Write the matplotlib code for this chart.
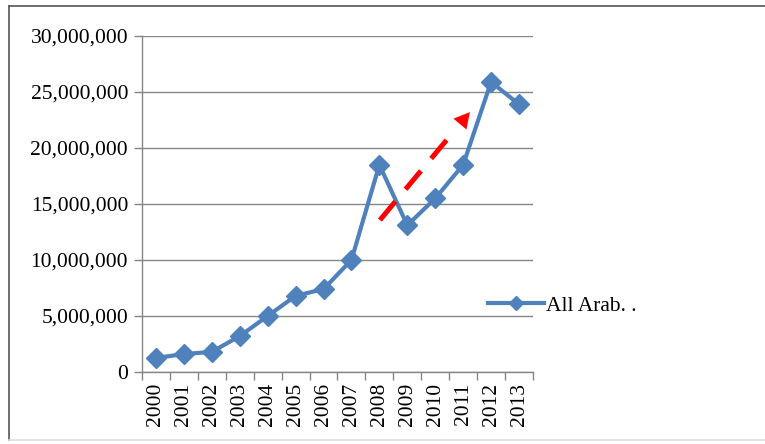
import matplotlib.pyplot as plt
from matplotlib.lines import Line2D

# --- data ---
years = ["2000", "2001", "2002", "2003", "2004", "2005", "2006",
         "2007", "2008", "2009", "2010", "2011", "2012", "2013"]
values = [1250000, 1600000, 1800000, 3200000, 5000000, 6800000, 7400000,
          10000000, 18500000, 13100000, 15500000, 18500000, 25900000, 23900000]
series_name = "All Arab. ."

# trend arrow (data coords: category index, value)
arrow_start = (8.02, 13570000)
arrow_end = (11.24, 23200000)

yticks = [0, 5000000, 10000000, 15000000, 20000000, 25000000, 30000000]

plt.rcParams['font.family'] = ['Liberation Serif', 'DejaVu Serif']

fig = plt.figure(figsize=(7.65, 4.44), dpi=100)
ax = fig.add_axes([0.1856, 0.1622, 0.6967 - 0.1856, 0.9189 - 0.1622])

blue = "#4F81BD"
grid_c = "#868686"
x = list(range(len(years)))

ax.plot(x, values, color=blue, linewidth=3, marker="D", markersize=10.5,
        markeredgecolor=blue, zorder=3, solid_joinstyle="miter")


def along(f):
    return (arrow_start[0] + (arrow_end[0] - arrow_start[0]) * f,
            arrow_start[1] + (arrow_end[1] - arrow_start[1]) * f)


# red dashed trend arrow: three dashes then a solid head
hx, hy = along(0.748)
ax.plot([arrow_start[0], hx], [arrow_start[1], hy], color="red", linewidth=3.6,
        dashes=(4.8, 3.2), zorder=4, dash_capstyle="butt")
ax.annotate("", xy=arrow_end, xytext=along(0.888),
            arrowprops=dict(arrowstyle="-|>,head_length=1.1,head_width=0.6",
                            color="red", lw=0.1, shrinkA=0, shrinkB=0), zorder=4)

ax.set_xlim(-0.5, len(years) - 0.5)
ax.set_ylim(0, 30000000)
ax.set_yticks(yticks)
ax.set_yticklabels([f"{v:,}" for v in yticks], fontsize=15.5)
ax.grid(axis="y", color=grid_c, linewidth=1)
ax.set_axisbelow(True)

ax.set_xticks([i - 0.5 for i in range(len(years) + 1)])
ax.set_xticklabels([])
ax.set_xticks(x, minor=True)
ax.set_xticklabels(years, minor=True, rotation=90, fontsize=15.5)
ax.tick_params(axis="x", which="minor", length=0, pad=8)
ax.tick_params(axis="x", which="major", length=6, color=grid_c, width=1)
ax.tick_params(axis="y", length=6, color=grid_c, width=1, pad=4)

for s in ["top", "right"]:
    ax.spines[s].set_visible(False)
for s in ["left", "bottom"]:
    ax.spines[s].set_color(grid_c)
    ax.spines[s].set_linewidth(1)

handle = Line2D([], [], color=blue, linewidth=3, marker="D", markersize=7)
fig.legend([handle], [series_name], loc="center left",
           bbox_to_anchor=(0.613, 0.311), frameon=False, fontsize=15.5,
           handlelength=2.6, handletextpad=0.1)

# outer frame
fig.add_artist(Line2D([0.012, 0.012], [0.009, 0.987], color="#555555", linewidth=1.2))
fig.add_artist(Line2D([0.012, 1.0], [0.987, 0.987], color="#555555", linewidth=1.2))
fig.add_artist(Line2D([0.012, 1.0], [0.009, 0.009], color="#dddddd", linewidth=1.2))

fig.savefig("out.png", dpi=100)
